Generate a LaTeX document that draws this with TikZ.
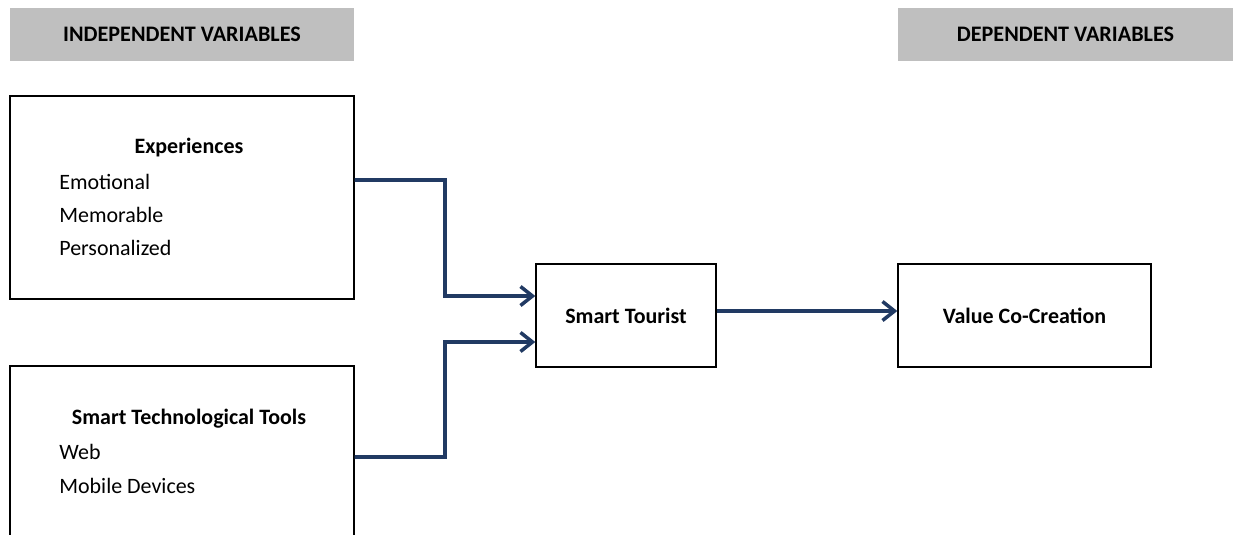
\documentclass[tikz,border=0pt]{standalone}
\usepackage{fontspec}
\setmainfont{Carlito}
\usetikzlibrary{arrows.meta}
\definecolor{arrowblue}{HTML}{213A63}
\definecolor{headgray}{HTML}{BFBFBF}
\tikzset{
	headbox/.style={fill=headgray, minimum width=6.88cm, minimum height=1.06cm, font=\fontsize{12.6}{15}\selectfont\bfseries},
	varbox/.style={draw=black, line width=0.8pt, inner sep=0pt},
	boxtext/.style={inner sep=0pt, font=\fontsize{12.5}{15}\selectfont},
	link/.style={draw=arrowblue, line width=2.1pt, -{Straight Barb[length=0.24cm, width=0.38cm, line width=2pt]}}
}

\begin{document}
\begin{tikzpicture}[x=0.02cm, y=-0.02cm]
			%%%%% START %%%%%
			
			\useasboundingbox (0, 0) rectangle (1233, 534);
			
			\node[headbox] (indep) at (182, 34.5) {INDEPENDENT VARIABLES};
			\node[headbox, minimum width=6.7cm] (dep) at (1065.5, 34.5) {DEPENDENT VARIABLES};
			
			\node[varbox, minimum width=6.88cm, minimum height=4.06cm] (exp) at (182, 197.5) {};
			\node[boxtext, font=\fontsize{12.5}{15}\selectfont\bfseries] (exphead) at (189, 148) {Experiences};
			\node[boxtext, anchor=west] (emo) at (59, 182) {Emotional};
			\node[boxtext, anchor=west] (mem) at (59, 215) {Memorable};
			\node[boxtext, anchor=west] (pers) at (59, 248) {Personalized};
			
			\node[varbox, minimum width=6.88cm, minimum height=3.44cm] (tech) at (182, 452) {};
			\node[boxtext, font=\fontsize{12.5}{15}\selectfont\bfseries] (techhead) at (189, 419) {Smart Technological Tools};
			\node[boxtext, anchor=west] (web) at (59, 452) {Web};
			\node[boxtext, anchor=west] (mob) at (59, 486) {Mobile Devices};
			
			\node[varbox, minimum width=3.6cm, minimum height=2.06cm, font=\fontsize{12.5}{15}\selectfont\bfseries] (tour) at (626, 315.5) {Smart Tourist};
			\node[varbox, minimum width=5.06cm, minimum height=2.06cm, font=\fontsize{12.5}{15}\selectfont\bfseries] (val) at (1024.5, 315.5) {Value Co-Creation};
			
			\draw[link] ([yshift=0.35cm]exp.east) -| (445, 296) -- ([yshift=0.39cm]tour.west);
			\draw[link] ([yshift=-0.1cm]tech.east) -| (445, 342) -- ([yshift=-0.53cm]tour.west);
			\draw[link] ([yshift=0.09cm]tour.east) -- ([yshift=0.09cm]val.west);
			
			%%%%% END %%%%%
		\end{tikzpicture}
\end{document}
